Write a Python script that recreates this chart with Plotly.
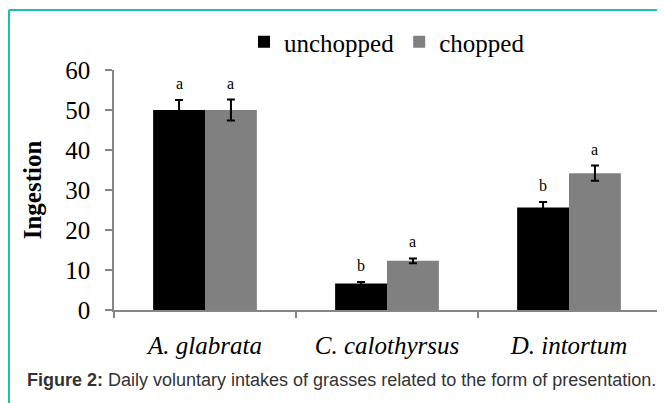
import plotly.graph_objects as go

species = ["A. glabrata", "C. calothyrsus", "D. intortum"]
unchopped = [50.0, 6.6, 25.6]
unchopped_err = [2.5, 0.4, 1.4]
unchopped_letters = ["a", "b", "b"]
chopped = [50.0, 12.3, 34.2]
chopped_err = [2.6, 0.6, 1.9]
chopped_letters = ["a", "a", "a"]
y_ticks = [0, 10, 20, 30, 40, 50, 60]

serif = "Liberation Serif, Times New Roman, serif"
axis_grey = "#868686"
teal = "#1fbfaa"

fig = go.Figure()
fig.add_trace(go.Bar(
    name="unchopped", x=species, y=unchopped,
    marker=dict(color="#000000", line=dict(width=0)),
    error_y=dict(type="data", array=unchopped_err, color="#000000", thickness=2, width=4),
))
fig.add_trace(go.Bar(
    name="chopped", x=species, y=chopped,
    marker=dict(color="#808080", line=dict(width=0)),
    error_y=dict(type="data", array=chopped_err, color="#000000", thickness=2, width=4),
))

# page body has an 8px margin; figure sized to fill the remaining window
OFF = 8
W, H = 665 - OFF, 403 - OFF
L, T = 114 - OFF, 70 - OFF
R = W - (660 - OFF)
B = H - (310 - OFF)
pw, ph = W - L - R, H - T - B
bargap = 0.43
half_bar_px = (pw / len(species)) * (1 - bargap) / 4

annotations = []
for vals, errs, letters, sign in [(unchopped, unchopped_err, unchopped_letters, -1),
                                  (chopped, chopped_err, chopped_letters, 1)]:
    for sp, v, e, letter in zip(species, vals, errs, letters):
        annotations.append(dict(
            x=sp, y=v + e, xref="x", yref="y", text=letter, showarrow=False,
            xshift=sign * half_bar_px, yanchor="bottom", yshift=6,
            font=dict(family=serif, size=16, color="#000000"),
        ))

def px_x(p):
    return (p - OFF - L) / pw

def px_y(p):
    return (H - B - (p - OFF)) / ph

annotations.append(dict(
    x=px_x(25), y=px_y(380), xref="paper", yref="paper", xanchor="left", yanchor="middle",
    showarrow=False,
    text="<b>Figure 2:</b> Daily voluntary intakes of grasses related to the form of presentation.",
    font=dict(family="Liberation Sans, Arial, sans-serif", size=18, color="#333333"),
))

shapes = [
    dict(type="line", xref="paper", yref="paper", x0=px_x(9), x1=px_x(670), y0=px_y(10), y1=px_y(10),
         line=dict(color=teal, width=2)),
    dict(type="line", xref="paper", yref="paper", x0=px_x(9), x1=px_x(9), y0=px_y(10), y1=px_y(410),
         line=dict(color=teal, width=2)),
]

fig.update_layout(
    width=W, height=H,
    margin=dict(l=L, r=R, t=T, b=B),
    paper_bgcolor="#ffffff", plot_bgcolor="#ffffff",
    barmode="group", bargap=bargap, bargroupgap=0,
    font=dict(family=serif, color="#000000"),
    legend=dict(orientation="h", x=0.5, xanchor="center", y=px_y(42), yanchor="middle",
                font=dict(family=serif, size=25), bgcolor="rgba(0,0,0,0)", itemwidth=30),
    annotations=annotations,
    shapes=shapes,
    xaxis=dict(
        showline=True, linecolor=axis_grey, linewidth=1.5,
        ticks="outside", tickson="boundaries", ticklen=6, tickcolor=axis_grey, tickwidth=1.5,
        tickfont=dict(family=serif, size=25, style="italic"),
        ticklabelstandoff=12,
        showgrid=False, zeroline=False,
    ),
    yaxis=dict(
        range=[0, 60], tickvals=y_ticks,
        showline=True, linecolor=axis_grey, linewidth=1.5,
        ticks="outside", ticklen=7, tickcolor=axis_grey, tickwidth=1.5,
        tickfont=dict(family=serif, size=25),
        ticklabelstandoff=10,
        showgrid=False, zeroline=False,
        title=dict(text="<b>Ingestion</b>", font=dict(family=serif, size=25), standoff=17),
    ),
)

fig.write_html("out.html")
